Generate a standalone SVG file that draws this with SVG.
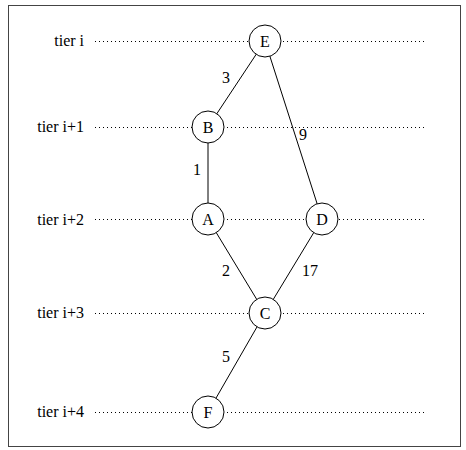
<svg xmlns="http://www.w3.org/2000/svg" width="466" height="450" viewBox="0 0 466 450">
<style>
text{font-family:"Liberation Serif","DejaVu Serif",serif;font-size:16px;fill:#000}
.tier{text-anchor:end}
.lbl{text-anchor:middle}
.dot{stroke:#000;stroke-width:1;stroke-dasharray:1 3;fill:none}
.edge{stroke:#000;stroke-width:1;fill:none}
circle{fill:#fff;stroke:#000;stroke-width:1}
.nt{text-anchor:middle}
</style>
<rect x="8.5" y="5.5" width="452" height="441" fill="#fff" stroke="#444" stroke-width="1"/>
<g id="tiers">
<text class="tier" x="84" y="46">tier i</text>
<text class="tier" x="84" y="132">tier i+1</text>
<text class="tier" x="84" y="225">tier i+2</text>
<text class="tier" x="84" y="318">tier i+3</text>
<text class="tier" x="84" y="417">tier i+4</text>
<line class="dot" x1="95" y1="41.5" x2="424" y2="41.5"/>
<line class="dot" x1="95" y1="127.5" x2="424" y2="127.5"/>
<line class="dot" x1="95" y1="219.5" x2="424" y2="219.5"/>
<line class="dot" x1="95" y1="313.5" x2="424" y2="313.5"/>
<line class="dot" x1="95" y1="412.5" x2="424" y2="412.5"/>
</g>
<g id="connectors">
<line class="edge" x1="265" y1="41" x2="208" y2="127"/>
<line class="edge" x1="265" y1="41" x2="322" y2="219"/>
<line class="edge" x1="208" y1="127" x2="208" y2="219"/>
<line class="edge" x1="208" y1="219" x2="265" y2="313"/>
<line class="edge" x1="322" y1="219" x2="265" y2="313"/>
<line class="edge" x1="265" y1="313" x2="208" y2="412"/>
<text class="lbl" x="226" y="83">3</text>
<text class="lbl" x="303" y="140">9</text>
<text class="lbl" x="197" y="175">1</text>
<text class="lbl" x="226" y="276">2</text>
<text class="lbl" x="310" y="276">17</text>
<text class="lbl" x="226" y="362">5</text>
</g>
<g id="node-E"><circle cx="265" cy="41" r="16"/><text class="nt" x="265" y="46.5">E</text></g>
<g id="node-B"><circle cx="208" cy="127" r="16"/><text class="nt" x="208" y="132.5">B</text></g>
<g id="node-A"><circle cx="208" cy="219" r="16"/><text class="nt" x="208" y="224.5">A</text></g>
<g id="node-D"><circle cx="322" cy="219" r="16"/><text class="nt" x="322" y="224.5">D</text></g>
<g id="node-C"><circle cx="265" cy="313" r="16"/><text class="nt" x="265" y="318.5">C</text></g>
<g id="node-F"><circle cx="208" cy="412" r="16"/><text class="nt" x="208" y="417.5">F</text></g>
</svg>
